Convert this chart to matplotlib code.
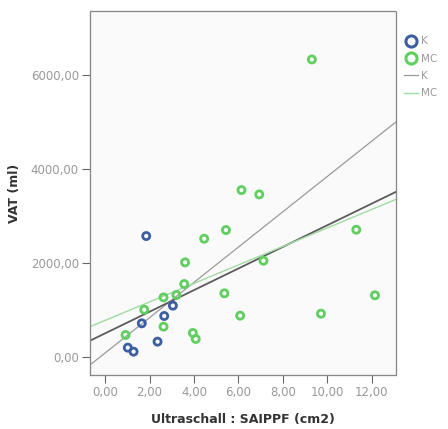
import matplotlib.pyplot as plt
import numpy as np
from matplotlib.lines import Line2D

# Group K (blue)
k_x = [1.85, 1.02, 1.28, 1.65, 2.36, 2.66, 3.05]
k_y = [2574, 198, 113, 716, 326, 872, 1092]

# Group MC (green)
mc_x = [9.31, 6.14, 6.94, 5.44, 4.46, 3.60, 3.56, 3.21, 2.63, 1.76, 2.63,
        0.92, 3.95, 4.08, 5.37, 6.08, 7.13, 11.31, 9.72, 12.15]
mc_y = [6333, 3553, 3461, 2702, 2517, 2014, 1553, 1319, 1268, 1007, 645,
        468, 511, 383, 1355, 879, 2049, 2709, 921, 1312]

# Fit lines: intercept, slope
fit_names = ["K", "total", "MC"]
fit_intercepts = [85, 503, 779]
fit_slopes = [375.6, 230.0, 196.7]

x_ticks = [0, 2, 4, 6, 8, 10, 12]
y_ticks = [0, 2000, 4000, 6000]

blue = "#3b5fa0"
green = "#5fcf5f"

fig = plt.figure(figsize=(4.48, 4.29), dpi=100)
ax = fig.add_axes([0.201, 0.126, 0.683, 0.848])
ax.set_facecolor("#fafafa")

xlim = (-0.68, 13.1)
ylim = (-383, 7362)
ax.set_xlim(*xlim)
ax.set_ylim(*ylim)

# fit lines
xs = np.array(xlim)
line_styles = {
    "K": dict(color="#9a9a9a", lw=0.9),
    "total": dict(color="#5c5c5c", lw=1.3),
    "MC": dict(color="#9fdc9f", lw=1.0),
}
for name, b0, b1 in zip(fit_names, fit_intercepts, fit_slopes):
    ax.plot(xs, b0 + b1 * xs, zorder=2, **line_styles[name])

ax.scatter(k_x, k_y, s=26, facecolors="none", edgecolors=blue,
           linewidths=2.0, zorder=3)
ax.scatter(mc_x, mc_y, s=26, facecolors="none", edgecolors=green,
           linewidths=2.0, zorder=3)

ax.set_xticks(x_ticks)
ax.set_yticks(y_ticks)
ax.set_xticklabels([f"{v:.2f}".replace(".", ",") for v in x_ticks])
ax.set_yticklabels([f"{v:.2f}".replace(".", ",") for v in y_ticks])
ax.tick_params(colors="#666666", labelcolor="#999999", labelsize=8.5,
               length=6, width=0.8, direction="out", pad=2)

for s in ax.spines.values():
    s.set_color("#888888")
    s.set_linestyle((0, (1, 0.6)))
    s.set_linewidth(0.9)

ax.set_xlabel("Ultraschall : SAIPPF (cm2)", fontsize=9, fontweight="bold",
              color="#333333")
ax.set_ylabel("VAT (ml)", fontsize=9, fontweight="bold", color="#333333")
ax.xaxis.set_label_coords(0.5, -0.105)
ax.yaxis.set_label_coords(-0.225, 0.5)

handles = [
    Line2D([], [], marker="o", ls="none", mfc="none", mec=blue, mew=2.2, ms=8),
    Line2D([], [], marker="o", ls="none", mfc="none", mec=green, mew=2.2, ms=8),
    Line2D([], [], color="#9a9a9a", lw=0.9),
    Line2D([], [], color="#9fdc9f", lw=1.0),
]
fig.legend(handles, ["K", "MC", "K", "MC"], loc="upper left",
           bbox_to_anchor=(0.888, 0.93), frameon=False, fontsize=7.5,
           labelcolor="#999999", handlelength=1.3, handletextpad=0.3,
           labelspacing=0.7, borderpad=0.1)

fig.savefig("out.png", dpi=100, facecolor="white")
